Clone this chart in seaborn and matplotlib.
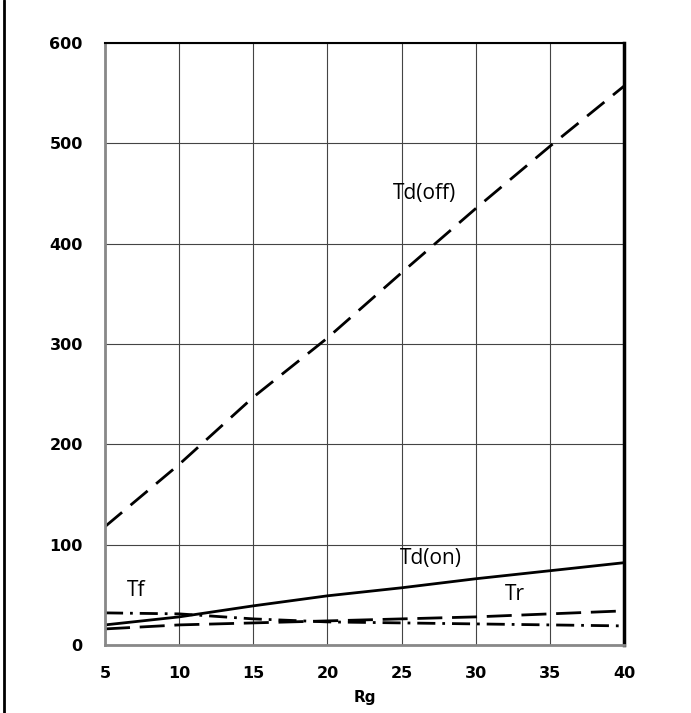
import matplotlib
matplotlib.use("Agg")
import matplotlib.pyplot as plt
from matplotlib.lines import Line2D
import seaborn as sns
import pandas as pd

# Switching times versus gate resistance
rg = [5, 10, 15, 20, 25, 30, 35, 40]
td_off = [118, 180, 247, 306, 371, 435, 497, 557]
td_on = [20, 28, 39, 49, 57, 66, 74, 82]
t_r = [16, 20, 22, 24, 26, 28, 31, 34]
t_f = [32, 31, 26, 23, 22, 21, 20, 19]

series_names = ["Td(off)", "Td(on)", "Tr", "Tf"]
x_ticks = [5, 10, 15, 20, 25, 30, 35, 40]
y_ticks = [0, 100, 200, 300, 400, 500, 600]

df = pd.concat([
    pd.DataFrame({"Rg": rg, "t": td_off, "curve": "Td(off)"}),
    pd.DataFrame({"Rg": rg, "t": td_on, "curve": "Td(on)"}),
    pd.DataFrame({"Rg": rg, "t": t_r, "curve": "Tr"}),
    pd.DataFrame({"Rg": rg, "t": t_f, "curve": "Tf"}),
], ignore_index=True)

sns.set_style("white", {"text.color": "black", "axes.labelcolor": "black",
                        "xtick.color": "black", "ytick.color": "black"})

fig = plt.figure(figsize=(6.91, 7.13), dpi=100)
ax = fig.add_axes([0.152, 0.0954, 0.751, 0.8443])

dash_styles = {
    "Td(off)": (8, 4),
    "Td(on)": "",
    "Tr": (9, 3.5),
    "Tf": (6.5, 2.5, 1, 2.5),
}
sns.lineplot(data=df, x="Rg", y="t", style="curve", dashes=dash_styles,
             color="black", linewidth=2.0, legend=False, ax=ax,
             style_order=series_names)

ax.set_xlim(5, 40)
ax.set_ylim(0, 600)
ax.set_xticks(x_ticks)
ax.set_yticks(y_ticks)
ax.grid(True, color="#444444", linewidth=0.8)
ax.set_axisbelow(True)
ax.tick_params(length=0, labelsize=11.5, labelcolor="black")
for lab in ax.get_xticklabels() + ax.get_yticklabels():
    lab.set_fontweight("bold")
ax.tick_params(axis="y", pad=16)
ax.tick_params(axis="x", pad=15)

ax.set_xlabel("Rg", fontweight="bold", fontsize=11, labelpad=6.5,
              color="black")
ax.set_ylabel("")

ax.spines["left"].set_color("#888888")
ax.spines["left"].set_linewidth(2.0)
ax.spines["bottom"].set_color("#888888")
ax.spines["bottom"].set_linewidth(2.0)
ax.spines["top"].set_color("black")
ax.spines["top"].set_linewidth(1.5)
ax.spines["right"].set_color("black")
ax.spines["right"].set_linewidth(2.5)

# Curve labels
label_font = dict(family="Open Sans", fontsize=15, color="black",
                  va="center", ha="left")
ax.text(24.4, 450, "Td(off)", **label_font)
ax.text(24.9, 86, "Td(on)", **label_font)
ax.text(32.0, 50, "Tr", **label_font)
ax.text(6.5, 54, "Tf", **label_font)

# Frame line along the left edge of the figure
fig.add_artist(Line2D([4 / 691, 4 / 691], [0, 1], transform=fig.transFigure,
                      color="black", linewidth=2.0))

fig.savefig("out.png", dpi=100)
